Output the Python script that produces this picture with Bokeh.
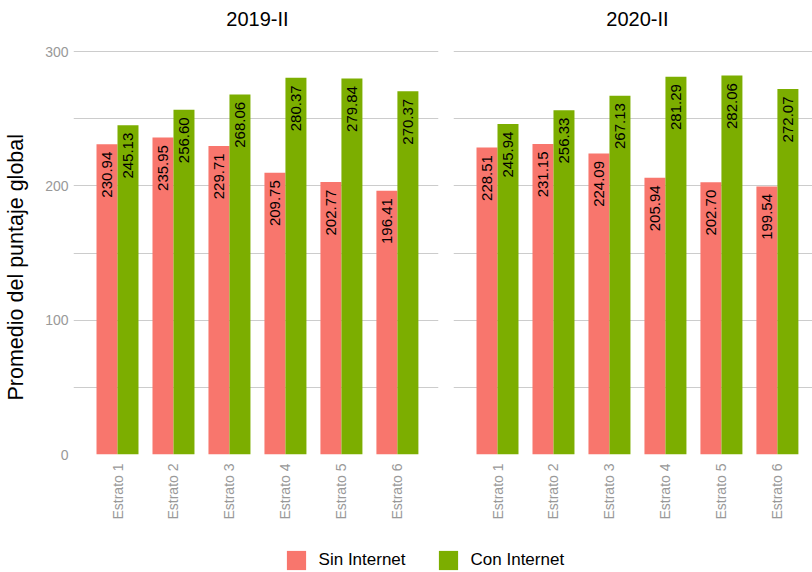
import math
from bokeh.plotting import figure
from bokeh.models import (ColumnDataSource, FixedTicker, Range1d, Legend,
                          LegendItem, Grid, Label, Title)
from bokeh.layouts import column, row
from bokeh.transform import dodge
from bokeh.core.properties import value
from bokeh.embed import file_html
from bokeh.resources import INLINE

# ---------------- data ----------------
categories = ["Estrato 1", "Estrato 2", "Estrato 3", "Estrato 4", "Estrato 5", "Estrato 6"]
periods = ["2019-II", "2020-II"]
series_labels = ["Sin Internet", "Con Internet"]

sin_2019 = [230.94, 235.95, 229.71, 209.75, 202.77, 196.41]
con_2019 = [245.13, 256.60, 268.06, 280.37, 279.84, 270.37]
sin_2020 = [228.51, 231.15, 224.09, 205.94, 202.70, 199.54]
con_2020 = [245.94, 256.33, 267.13, 281.29, 282.06, 272.07]

y_ticks = [0, 100, 200, 300]
y_minor_ticks = [50, 150, 250]
y_axis_title = "Promedio del puntaje global"

# ---------------- style ----------------
PINK = "#F8766D"
GREEN = "#7CAE00"
FONT = "Liberation Sans"
GRID = "#cccccc"
TICK_TXT = "#999999"
BAR_W = 0.375
PANEL_H = 535
FRAME_BOTTOM = 454          # px from top of the panel figure
PLOT_TOP = 51               # px position of the y = Y_MAX gridline
X_START = 0.214
UNIT_PX = 365 / 6.52
Y_MIN, Y_MAX = 0, 300
# frame reaches the top of the figure so the strip title can sit inside it
Y_TOP = Y_MAX * FRAME_BOTTOM / (FRAME_BOTTOM - PLOT_TOP)


def panel(title, sin, con, width, border_left, border_right, frame_w, show_y):
    pos = list(range(1, len(categories) + 1))
    src = ColumnDataSource(dict(
        x=pos, sin=sin, con=con,
        sin_lbl=[f"{v:.2f}" for v in sin],
        con_lbl=[f"{v:.2f}" for v in con],
    ))
    x_end = X_START + frame_w / UNIT_PX
    p = figure(width=width, height=PANEL_H,
               x_range=Range1d(X_START, x_end), y_range=Range1d(Y_MIN, Y_TOP),
               output_backend="svg", toolbar_location=None,
               y_axis_location="left" if show_y else None,
               min_border_left=border_left, min_border_right=border_right,
               min_border_top=0, min_border_bottom=PANEL_H - FRAME_BOTTOM)
    p.outline_line_color = None
    p.background_fill_color = "white"
    p.border_fill_color = "white"
    for g in p.xgrid + p.ygrid:
        g.visible = False
    grid = Grid(dimension=1, ticker=FixedTicker(ticks=y_ticks, minor_ticks=y_minor_ticks),
                grid_line_color=GRID, grid_line_width=1,
                minor_grid_line_color=GRID, minor_grid_line_width=1)
    p.add_layout(grid, "center")

    p.vbar(x=dodge("x", -BAR_W / 2, range=p.x_range), top="sin", width=BAR_W, bottom=0,
           source=src, fill_color=PINK, line_color=None)
    p.vbar(x=dodge("x", BAR_W / 2, range=p.x_range), top="con", width=BAR_W, bottom=0,
           source=src, fill_color=GREEN, line_color=None)

    for field, lbl, off in (("sin", "sin_lbl", -BAR_W / 2), ("con", "con_lbl", BAR_W / 2)):
        p.text(x=dodge("x", off, range=p.x_range), y=field, text=lbl, source=src,
               angle=math.pi / 2, text_align="right", text_baseline="middle",
               y_offset=7.5, text_font=value(FONT), text_font_size="15px",
               text_color="black")

    xa = p.xaxis[0]
    xa.ticker = FixedTicker(ticks=pos)
    xa.major_label_overrides = {i: c for i, c in zip(pos, categories)}
    xa.major_label_orientation = math.pi / 2
    xa.axis_line_color = None
    xa.major_tick_line_color = None
    xa.minor_tick_line_color = None
    xa.major_tick_out = 0
    xa.major_tick_in = 0
    xa.minor_tick_out = 0
    xa.major_label_standoff = 9
    xa.major_label_text_color = TICK_TXT
    xa.major_label_text_font = FONT
    xa.major_label_text_font_size = "14px"

    if show_y:
        ya = p.yaxis[0]
        ya.ticker = FixedTicker(ticks=y_ticks, minor_ticks=y_minor_ticks)
        ya.axis_line_color = None
        ya.major_tick_line_color = None
        ya.minor_tick_line_color = None
        ya.major_tick_out = 0
        ya.major_tick_in = 0
        ya.minor_tick_out = 0
        ya.major_label_standoff = 5
        ya.major_label_text_color = TICK_TXT
        ya.major_label_text_font = FONT
        ya.major_label_text_font_size = "14px"
        # blank axis label only used as a spacer between tick labels and the title
        ya.axis_label = " "
        ya.axis_label_text_font_size = "1px"
        ya.axis_label_standoff = 11
        p.add_layout(Title(text=y_axis_title, align="left", offset=54, standoff=0,
                           text_font=FONT, text_font_size="21.5px",
                           text_font_style="normal", text_color="black"), "left")

    # facet strip title, centred over the categories (inside the extended frame)
    p.add_layout(Label(x=sum(pos) / len(pos), y=Y_MAX, text=title, y_offset=33,
                       text_align="center", text_baseline="middle",
                       text_font=FONT, text_font_size="20px", text_color="black"))
    return p, src


p1, src1 = panel(periods[0], sin_2019, con_2019, width=446, border_left=73, border_right=8,
                 frame_w=365, show_y=True)
p2, src2 = panel(periods[1], sin_2020, con_2020, width=366, border_left=7, border_right=0,
                 frame_w=359, show_y=False)

# ---------------- legend ----------------
pl = figure(width=812, height=572 - PANEL_H, x_range=Range1d(0, 1), y_range=Range1d(0, 1),
            x_axis_type=None, y_axis_type=None, output_backend="svg",
            toolbar_location=None, min_border=0)
pl.outline_line_color = None
pl.xgrid.visible = False
pl.ygrid.visible = False
r_sin = pl.vbar(x="x", top="sin", width=0.1, source=src1, fill_color=PINK, line_color=None,
                visible=False)
r_con = pl.vbar(x="x", top="con", width=0.1, source=src1, fill_color=GREEN, line_color=None,
                visible=False)
legend = Legend(items=[LegendItem(label=series_labels[0], renderers=[r_sin]),
                       LegendItem(label=series_labels[1], renderers=[r_con])],
                orientation="horizontal", location=(283.6, 0),
                glyph_width=24, glyph_height=24, label_standoff=11, spacing=30,
                label_text_font=FONT, label_text_font_size="17px",
                label_text_color="black", padding=0, margin=0,
                border_line_color=None, background_fill_alpha=0)
pl.add_layout(legend, "center")

layout = column(row(p1, p2, spacing=0), pl, spacing=0)

with open("out.html", "w") as f:
    f.write(file_html(layout, INLINE))
